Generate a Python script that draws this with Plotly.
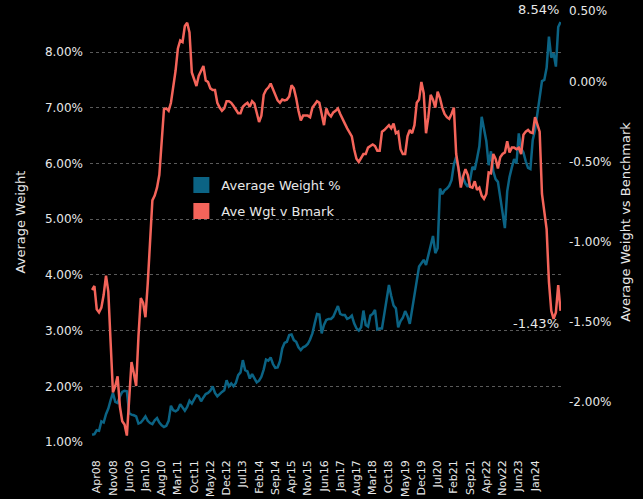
import pandas as pd
import plotly.graph_objects as go

# Monthly categories Feb08 .. Dec24
months = list(pd.date_range("2008-02-01", periods=203, freq="MS").strftime("%b%y"))

tick_labels = ["Apr08", "Nov08", "Jun09", "Jan10", "Aug10", "Mar11", "Oct11", "May12",
               "Dec12", "Jul13", "Feb14", "Sep14", "Apr15", "Nov15", "Jun16", "Jan17",
               "Aug17", "Mar18", "Oct18", "May19", "Dec19", "Jul20", "Feb21", "Sep21",
               "Apr22", "Nov22", "Jun23", "Jan24"]

avg_weight = [
    1.13, 1.14, 1.21, 1.20, 1.37, 1.35, 1.50, 1.60, 1.75, 1.88,
    1.72, 1.70, 1.82, 1.90, 1.92, 1.91, 1.52, 1.49, 1.48, 1.46,
    1.33, 1.35, 1.40, 1.46, 1.38, 1.34, 1.32, 1.39, 1.43, 1.35,
    1.30, 1.27, 1.29, 1.38, 1.65, 1.57, 1.55, 1.58, 1.68, 1.62,
    1.56, 1.63, 1.74, 1.69, 1.78, 1.84, 1.82, 1.73, 1.80, 1.86,
    1.88, 1.92, 2.00, 1.88, 1.82, 1.87, 1.90, 1.93, 2.11, 2.00,
    2.05, 2.00, 2.06, 2.20, 2.25, 2.47, 2.29, 2.27, 2.14, 2.22,
    2.15, 2.07, 2.10, 2.17, 2.30, 2.48, 2.46, 2.52, 2.40, 2.33,
    2.34, 2.45, 2.68, 2.78, 2.80, 2.92, 2.93, 2.83, 2.80, 2.70,
    2.65, 2.70, 2.72, 2.76, 2.84, 2.95, 3.13, 3.30, 3.29, 2.95,
    3.10, 3.19, 3.21, 3.21, 3.25, 3.36, 3.44, 3.30, 3.28, 3.28,
    3.21, 3.23, 3.27, 3.13, 3.04, 3.00, 3.06, 3.36, 3.10, 3.07,
    3.27, 3.30, 3.37, 3.02, 3.04, 3.04, 3.33, 3.60, 3.82, 3.62,
    3.45, 3.40, 3.06, 3.17, 3.23, 3.35, 3.26, 3.12, 3.38, 3.58,
    3.85, 4.15, 4.21, 4.27, 4.18, 4.34, 4.50, 4.70, 4.39, 4.48,
    5.55, 5.45, 5.52, 5.55, 5.60, 5.70, 5.98, 6.12, 5.90, 5.72,
    5.74, 5.64, 5.58, 5.70, 5.94, 5.89, 6.09, 6.31, 6.84, 6.63,
    6.40, 5.97, 6.22, 5.86, 5.72, 5.67, 5.36, 5.05, 4.84, 5.50,
    5.76, 5.93, 6.08, 6.00, 6.54, 6.27, 6.20, 6.04, 5.92, 5.90,
    6.42, 6.60, 6.92, 7.22, 7.48, 7.50, 7.72, 8.28, 7.90, 7.98,
    7.74, 8.45, 8.54,
]

wgt_v_bmark = [
    -1.30, -1.275, -1.42, -1.44, -1.41, -1.33, -1.21, -1.31, -1.63, -1.94,
    -1.90, -1.84, -2.03, -2.12, -2.14, -2.21, -1.98, -1.75, -1.82, -1.90,
    -1.59, -1.35, -1.38, -1.47, -1.26, -1.01, -0.74, -0.71, -0.66, -0.58,
    -0.36, -0.17, -0.165, -0.18, -0.13, -0.04, 0.07, 0.21, 0.26, 0.25,
    0.35, 0.37, 0.31, 0.06, 0.02, -0.025, 0.04, 0.075, 0.10, 0.01,
    0.00, -0.04, -0.05, -0.05, -0.13, -0.16, -0.18, -0.165, -0.12, -0.12,
    -0.13, -0.15, -0.175, -0.195, -0.195, -0.155, -0.14, -0.13, -0.155, -0.12,
    -0.135, -0.20, -0.25, -0.21, -0.08, -0.05, -0.035, -0.01, -0.045, -0.085,
    -0.115, -0.13, -0.11, -0.115, -0.11, -0.09, -0.02, -0.04, -0.10, -0.18,
    -0.24, -0.21, -0.21, -0.21, -0.22, -0.16, -0.14, -0.12, -0.13, -0.20,
    -0.27, -0.165, -0.20, -0.215, -0.19, -0.18, -0.165, -0.20, -0.235, -0.26,
    -0.29, -0.32, -0.34, -0.42, -0.48, -0.50, -0.475, -0.45, -0.45, -0.41,
    -0.40, -0.39, -0.40, -0.43, -0.43, -0.31, -0.30, -0.285, -0.27, -0.29,
    -0.26, -0.32, -0.31, -0.42, -0.45, -0.45, -0.34, -0.30, -0.32, -0.27,
    -0.13, -0.11, 0.00, -0.07, -0.32, -0.22, -0.08, -0.11, -0.16, -0.06,
    -0.10, -0.16, -0.20, -0.22, -0.23, -0.20, -0.16, -0.45, -0.54, -0.66,
    -0.59, -0.545, -0.58, -0.655, -0.66, -0.62, -0.675, -0.66, -0.71, -0.73,
    -0.70, -0.565, -0.57, -0.45, -0.48, -0.54, -0.47, -0.45, -0.44, -0.37,
    -0.44, -0.41, -0.41, -0.42, -0.41, -0.45, -0.33, -0.31, -0.30, -0.315,
    -0.32, -0.22, -0.27, -0.31, -0.70, -0.81, -0.92, -1.25, -1.43, -1.48,
    -1.44, -1.27, -1.43,
]

left_ticks = [1, 2, 3, 4, 5, 6, 7, 8]
left_tick_text = ["1.00%", "2.00%", "3.00%", "4.00%", "5.00%", "6.00%", "7.00%", "8.00%"]
right_ticks = [-2.0, -1.5, -1.0, -0.5, 0.0]
right_tick_text = ["-2.00%", "-1.50%", "-1.00%", "-0.50%", "0.00%"]
right_top_tick = 0.5
right_top_text = "0.50%"

BLUE = "#0b6384"
RED = "#f4645a"
TXT = "#e8e8e8"
FONT = "DejaVu Sans"

x_blue = months[:len(avg_weight)]
x_red = months[:len(wgt_v_bmark)]

fig = go.Figure()
fig.add_trace(go.Scatter(x=x_blue, y=avg_weight, mode="lines", name="Average Weight %",
                         line=dict(color=BLUE, width=2.5), showlegend=False, yaxis="y"))
fig.add_trace(go.Scatter(x=x_red, y=wgt_v_bmark, mode="lines", name="Ave Wgt v Bmark",
                         line=dict(color=RED, width=2.5), showlegend=False, yaxis="y2"))
# legend entries with square swatches
fig.add_trace(go.Scatter(x=[None], y=[None], mode="markers", name="Average Weight %",
                         marker=dict(symbol="square", size=18, color=BLUE),
                         legendgroup="a", showlegend=True))
fig.add_trace(go.Scatter(x=[None], y=[None], mode="markers", name="Ave Wgt v Bmark",
                         marker=dict(symbol="square", size=18, color=RED),
                         legendgroup="b", showlegend=True))

fig.add_annotation(x=x_blue[-1], y=avg_weight[-1], xref="x", yref="y",
                   text=f"{avg_weight[-1]:.2f}%", showarrow=False,
                   xanchor="right", yanchor="bottom", yshift=3,
                   font=dict(family=FONT, size=13, color=TXT))
fig.add_annotation(x=x_red[-1], y=wgt_v_bmark[-1], xref="x", yref="y2",
                   text=f"{wgt_v_bmark[-1]:.2f}%", showarrow=False,
                   xanchor="right", yanchor="top", yshift=-3,
                   font=dict(family=FONT, size=13, color=TXT))
fig.add_annotation(x=1, y=right_top_tick, xref="paper", yref="y2",
                   text=right_top_text, showarrow=False,
                   xanchor="left", yanchor="top", xshift=6,
                   font=dict(family=FONT, size=12, color=TXT))

fig.update_layout(
    width=643, height=499,
    paper_bgcolor="black", plot_bgcolor="black",
    margin=dict(l=90, r=82, t=2, b=57),
    font=dict(family=FONT, size=12, color=TXT),
    xaxis=dict(type="category", categoryorder="array", categoryarray=months,
               range=[-0.9, len(months) - 0.8], automargin=False,
               tickmode="array", tickvals=tick_labels, ticktext=tick_labels,
               tickangle=-90, showgrid=False, zeroline=False, showline=False,
               ticks="", ticklabelstandoff=15,
               tickfont=dict(family=FONT, size=11, color=TXT)),
    yaxis=dict(range=[1, 8.9], tickmode="array", tickvals=left_ticks, ticktext=left_tick_text,
               showgrid=True, gridcolor="#5a5a5a", gridwidth=1, griddash="3px,3px",
               zeroline=False, showline=False, ticks="", ticklabelstandoff=6, automargin=False,
               title=dict(text="Average Weight", standoff=16,
                          font=dict(family=FONT, size=13, color=TXT)),
               tickfont=dict(family=FONT, size=12, color=TXT)),
    yaxis2=dict(range=[-2.25, 0.5], overlaying="y", side="right", automargin=False,
                tickmode="array", tickvals=right_ticks, ticktext=right_tick_text,
                showgrid=False, zeroline=False, showline=False, ticks="", ticklabelstandoff=7,
                title=dict(text="Average Weight vs Benchmark", standoff=10,
                           font=dict(family=FONT, size=13, color=TXT)),
                tickfont=dict(family=FONT, size=12, color=TXT)),
    legend=dict(x=0.194, y=0.618, xanchor="left", yanchor="top",
                bgcolor="rgba(0,0,0,0)", itemsizing="trace", tracegroupgap=6,
                font=dict(family=FONT, size=13, color=TXT)),
    showlegend=True,
)

fig.write_html("out.html", config={"displayModeBar": False},
               post_script="document.body.style.margin='0';document.body.style.background='black';")
